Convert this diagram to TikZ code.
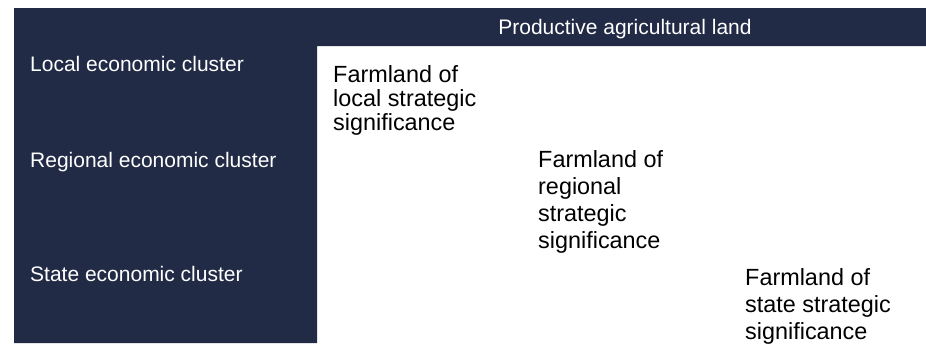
\documentclass[tikz,border=0pt]{standalone}
\usepackage{fontspec}
\setmainfont{Liberation Sans}
\definecolor{navy}{RGB}{34,43,70}

\begin{document}
\begin{tikzpicture}[x=1pt, y=-1pt,
  rowlabel/.style={anchor=base west, inner sep=0pt, text=white,
    font=\fontsize{21}{24}\selectfont},
  farmland/.style={anchor=north west, inner sep=0pt, align=left,
    font=\fontsize{23.4}{#1}\selectfont},
  farmland/.default=27,
]
  % page area, text running past the bottom edge is cut off
  \useasboundingbox (0,0) rectangle (926,343);
  \clip (0,0) rectangle (926,343);
  % header band and left column in one piece
  \fill[navy] (14,8) -- (926,8) -- (926,46) -- (317,46) -- (317,343)
    -- (14,343) -- cycle;
  % column heading
  \node[rowlabel, anchor=base] (land) at (625,34) {Productive agricultural land};
  % row headings
  \node[rowlabel] (local)    at (30,71)  {Local economic cluster};
  \node[rowlabel] (regional) at (30,167) {Regional economic cluster};
  \node[rowlabel] (state)    at (30,281) {State economic cluster};
  % farmland classes, stepping down to the right
  \node[farmland=24] (flocal) at (333,65)  {Farmland of\\local strategic\\significance};
  \node[farmland] (fregional) at (538,150) {Farmland of\\regional\\strategic\\significance};
  \node[farmland] (fstate)    at (745,268) {Farmland of\\state strategic\\significance};
\end{tikzpicture}
\end{document}
